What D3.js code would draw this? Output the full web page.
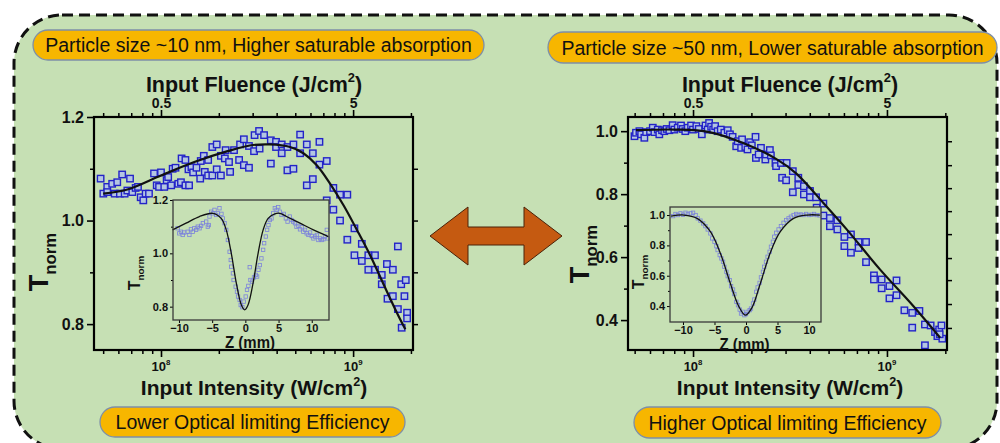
<!DOCTYPE html>
<html>
<head>
<meta charset="utf-8">
<script src="https://cdn.jsdelivr.net/npm/d3@7"></script>
<style>
  body { margin: 0; background: #fff; }
  svg { display: block; font-family: "Liberation Sans", Arial, sans-serif; }
</style>
</head>
<body>
<svg id="chart" width="1000" height="443"></svg>
<script>
// ---- data ----
// main plots: [input intensity (W/cm^2), T_norm]
const leftMainPts = [[4.85e7,1.081],[5.01e7,1.052],[5.25e7,1.065],[5.25e7,1.055],[5.57e7,1.071],[5.74e7,1.052],[5.92e7,1.074],[6.11e7,1.052],[6.28e7,1.089],[6.47e7,1.052],[6.68e7,1.058],[6.9e7,1.081],[7.09e7,1.055],[7.38e7,1.063],[7.59e7,1.065],[7.84e7,1.045],[8.09e7,1.039],[8.32e7,1.052],[8.66e7,1.052],[9.2e7,1.091],[9.5e7,1.068],[9.77e7,1.065],[1.0e8,1.093],[1.04e8,1.065],[1.07e8,1.078],[1.09e8,1.084],[1.13e8,1.068],[1.15e8,1.1],[1.19e8,1.102],[1.23e8,1.071],[1.27e8,1.074],[1.34e8,1.068],[1.28e8,1.12],[1.34e8,1.117],[1.4e8,1.068],[1.39e8,1.099],[1.44e8,1.103],[1.47e8,1.093],[1.53e8,1.102],[1.6e8,1.081],[1.61e8,1.115],[1.67e8,1.125],[1.69e8,1.094],[1.76e8,1.117],[1.76e8,1.087],[1.85e8,1.087],[1.85e8,1.142],[1.95e8,1.099],[1.95e8,1.147],[2.05e8,1.087],[2.05e8,1.125],[2.15e8,1.12],[2.17e8,1.136],[2.26e8,1.113],[2.29e8,1.094],[2.4e8,1.136],[2.55e8,1.117],[2.58e8,1.147],[2.7e8,1.157],[2.7e8,1.107],[2.87e8,1.102],[2.87e8,1.144],[3.05e8,1.134],[3.07e8,1.165],[3.24e8,1.173],[3.26e8,1.139],[3.44e8,1.165],[3.73e8,1.155],[3.73e8,1.11],[3.97e8,1.152],[3.97e8,1.142],[4.25e8,1.147],[4.25e8,1.13],[4.55e8,1.142],[4.55e8,1.097],[4.89e8,1.147],[4.89e8,1.1],[5.3e8,1.166],[5.3e8,1.13],[5.74e8,1.147],[5.74e8,1.068],[6.17e8,1.13],[6.17e8,1.08],[6.68e8,1.152],[6.68e8,1.108],[7.29e8,1.115],[7.29e8,1.039],[7.89e8,1.063],[7.89e8,1.021],[8.55e8,1.05],[8.55e8,1.0],[9.33e8,1.05],[9.33e8,0.963],[1.016e9,0.985],[1.016e9,0.933],[1.11e9,0.955],[1.11e9,0.922],[1.2e9,0.933],[1.2e9,0.905],[1.3e9,0.933],[1.3e9,0.905],[1.41e9,0.895],[1.41e9,0.877],[1.5e9,0.916],[1.51e9,0.849],[1.61e9,0.854],[1.61e9,0.905],[1.71e9,0.95],[1.71e9,0.829],[1.78e9,0.877],[1.85e9,0.854],[1.88e9,0.885],[1.79e9,0.793],[1.91e9,0.822],[1.91e9,0.811]];
const leftMainFit = [[5.0e7,1.052],[6.68e7,1.06],[1.0e8,1.087],[1.49e8,1.113],[2.22e8,1.134],[2.9e8,1.145],[3.69e8,1.147],[4.7e8,1.142],[5.51e8,1.13],[6.47e8,1.107],[7.6e8,1.071],[8.93e8,1.029],[1.05e9,0.981],[1.23e9,0.932],[1.44e9,0.877],[1.69e9,0.822],[1.87e9,0.79]];

const rightMainPts = [[4.99e7,0.984],[5.08e7,0.995],[5.29e7,1.0],[5.4e7,0.99],[5.61e7,0.979],[5.73e7,0.997],[6.0e7,1.0],[6.2e7,1.011],[6.32e7,0.997],[6.58e7,1.005],[6.7e7,0.99],[6.92e7,1.003],[7.11e7,1.0],[7.31e7,1.007],[7.55e7,1.003],[7.85e7,1.019],[8.01e7,1.005],[8.34e7,1.011],[8.67e7,1.018],[8.85e7,1.007],[9.12e7,1.0],[9.39e7,1.011],[9.77e7,1.018],[9.99e7,1.005],[1.04e8,1.016],[1.07e8,1.007],[1.11e8,0.99],[1.16e8,1.018],[1.19e8,1.005],[1.21e8,1.026],[1.24e8,1.014],[1.27e8,1.005],[1.3e8,1.016],[1.34e8,1.0],[1.39e8,1.005],[1.45e8,0.995],[1.51e8,1.003],[1.55e8,0.99],[1.6e8,0.982],[1.67e8,0.952],[1.7e8,0.968],[1.77e8,0.947],[1.79e8,0.974],[1.86e8,0.95],[1.91e8,0.942],[1.97e8,0.965],[2.01e8,0.955],[2.1e8,0.982],[2.11e8,0.915],[2.18e8,0.926],[2.24e8,0.947],[2.36e8,0.91],[2.38e8,0.926],[2.49e8,0.94],[2.52e8,0.923],[2.66e8,0.899],[2.68e8,0.889],[2.84e8,0.899],[3.04e8,0.899],[2.88e8,0.852],[3.02e8,0.844],[3.27e8,0.806],[3.27e8,0.873],[3.49e8,0.852],[3.49e8,0.829],[3.73e8,0.825],[3.73e8,0.799],[4.01e8,0.81],[4.01e8,0.79],[4.31e8,0.79],[4.34e8,0.757],[4.7e8,0.77],[4.7e8,0.732],[5.08e8,0.724],[5.08e8,0.698],[5.55e8,0.717],[5.55e8,0.688],[6.03e8,0.664],[6.03e8,0.635],[6.52e8,0.672],[6.52e8,0.614],[7.14e8,0.648],[7.14e8,0.629],[7.8e8,0.648],[7.8e8,0.584],[8.57e8,0.542],[8.57e8,0.529],[9.39e8,0.529],[9.39e8,0.501],[1.03e9,0.508],[1.03e9,0.469],[1.12e9,0.526],[1.12e9,0.479],[1.23e9,0.431],[1.35e9,0.423],[1.35e9,0.376],[1.47e9,0.429],[1.57e9,0.386],[1.57e9,0.32],[1.68e9,0.383],[1.77e9,0.362],[1.82e9,0.349],[1.86e9,0.37],[1.91e9,0.383],[1.93e9,0.341],[1.87e9,0.355]];
const rightMainFit = [[5.08e7,1.003],[8.17e7,1.005],[1.21e8,0.997],[1.8e8,0.963],[2.68e8,0.912],[3.4e8,0.866],[4.7e8,0.772],[6.2e8,0.688],[9.2e8,0.561],[1.37e9,0.444],[1.88e9,0.344]];

// insets: [Z (mm), T_norm]
const leftInsetPts = [[-10.2,1.094],[-9.95,1.075],[-9.7,1.081],[-9.44,1.069],[-9.2,1.078],[-8.7,1.081],[-8.43,1.069],[-8.2,1.09],[-7.93,1.081],[-7.68,1.094],[-7.42,1.088],[-7.17,1.1],[-6.9,1.094],[-6.67,1.103],[-6.4,1.113],[-5.9,1.119],[-5.66,1.1],[-5.5,1.106],[-5.4,1.138],[-5.15,1.156],[-4.9,1.15],[-4.65,1.163],[-4.4,1.144],[-4.14,1.15],[-3.9,1.169],[-3.6,1.148],[-3.4,1.131],[-3.13,1.113],[-2.88,1.088],[-2.63,1.05],[-2.37,1.006],[-2.2,0.975],[-2.12,0.95],[-1.87,0.925],[-1.77,0.9],[-1.46,0.875],[-1.26,0.856],[-1.1,0.838],[-0.86,0.825],[-0.7,0.806],[-0.45,0.798],[-0.25,0.819],[0.05,0.838],[0.25,0.863],[0.45,0.878],[0.66,0.948],[0.76,0.9],[1.0,0.894],[1.3,0.91],[1.57,0.919],[1.77,0.913],[1.97,0.938],[2.17,0.956],[2.42,0.981],[2.68,1.013],[2.83,1.038],[3.08,1.063],[3.28,1.088],[3.48,1.106],[3.69,1.125],[3.94,1.131],[4.19,1.15],[4.44,1.169],[4.7,1.163],[4.95,1.173],[5.2,1.156],[5.45,1.144],[5.8,1.148],[6.1,1.131],[6.36,1.119],[6.7,1.138],[6.97,1.125],[7.2,1.119],[7.47,1.113],[7.7,1.1],[7.98,1.103],[8.23,1.09],[8.48,1.098],[8.74,1.081],[8.99,1.088],[9.24,1.075],[9.5,1.069],[9.75,1.078],[10.0,1.065],[10.25,1.056],[10.5,1.063],[10.76,1.069],[11.0,1.05],[11.26,1.056],[11.5,1.05],[11.77,1.053],[12.0,1.063],[12.27,1.088],[12.4,1.056]];
const leftInsetFit = [[-10.96,1.088],[-8.94,1.113],[-6.92,1.138],[-4.9,1.15],[-3.64,1.131],[-2.88,1.088],[-2.12,1.0],[-1.36,0.888],[-0.6,0.806],[-0.1,0.788],[0.4,0.806],[1.16,0.888],[1.92,1.0],[2.68,1.088],[3.43,1.131],[4.44,1.148],[5.2,1.15],[6.2,1.138],[8.23,1.113],[10.25,1.088],[12.5,1.063]];

const rightInsetPts = [[-11.56,0.993],[-11.19,1.007],[-10.82,1.0],[-10.4,1.011],[-10.0,1.002],[-9.6,1.015],[-9.23,1.007],[-8.8,1.011],[-8.4,1.015],[-8.0,1.0],[-7.65,0.978],[-7.23,0.963],[-6.8,0.945],[-6.44,0.927],[-6.07,0.905],[-5.65,0.879],[-5.38,0.846],[-5.0,0.824],[-4.7,0.795],[-4.5,0.769],[-4.17,0.736],[-3.9,0.714],[-3.64,0.692],[-3.43,0.659],[-3.11,0.626],[-2.9,0.597],[-2.59,0.571],[-2.37,0.531],[-2.06,0.509],[-1.85,0.479],[-1.53,0.428],[-1.27,0.406],[-1.0,0.377],[-0.79,0.351],[-0.53,0.362],[-0.26,0.34],[0.0,0.347],[0.26,0.362],[0.58,0.373],[0.79,0.384],[1.11,0.417],[1.32,0.443],[1.64,0.494],[1.85,0.523],[2.16,0.553],[2.37,0.589],[2.69,0.626],[2.9,0.659],[3.17,0.692],[3.43,0.725],[3.75,0.758],[3.96,0.791],[4.27,0.824],[4.49,0.857],[4.8,0.883],[5.17,0.905],[5.54,0.927],[5.96,0.949],[6.39,0.967],[6.75,0.978],[7.12,0.989],[7.55,1.0],[7.97,1.007],[8.34,1.0],[8.71,1.004],[9.13,1.0],[9.55,1.007],[9.97,1.0],[10.4,1.002],[10.8,1.007],[11.2,1.0],[11.66,0.998]];
const rightInsetFit = [[-11.87,0.993],[-9.87,1.0],[-7.76,0.978],[-5.65,0.89],[-4.06,0.747],[-2.48,0.549],[-1.16,0.399],[-0.1,0.34],[0.95,0.39],[2.27,0.549],[3.85,0.751],[5.44,0.89],[7.55,0.978],[9.66,1.0],[11.77,1.0]];

// tick values and labels
const intensityMajor = [1e8, 1e9];
const intensityMinor = [5e7, 6e7, 7e7, 8e7, 9e7, 2e8, 3e8, 4e8, 5e8, 6e8, 7e8, 8e8, 9e8, 2e9];
const intensityExp = ['8', '9'];
const fluenceMajor = [0.5, 5];
const fluenceMinor = [0.25, 0.3, 0.35, 0.4, 0.45, 1, 1.5, 2, 2.5, 3, 3.5, 4, 4.5, 10];
const fluencePerIntensity = 5e-9;   // 0.5 J/cm^2 sits at 1e8 W/cm^2
const zTicks = [-10, -5, 0, 5, 10];
const rightMirrorTicks = [0.968, 0.892, 0.819, 0.746, 0.673, 0.597, 0.527, 0.451, 0.375];

const titles = {
  topLeft: 'Particle size ~10 nm, Higher saturable absorption',
  topRight: 'Particle size ~50 nm, Lower saturable absorption',
  bottomLeft: 'Lower Optical limiting Efficiency',
  bottomRight: 'Higher Optical limiting Efficiency'
};

// ---- drawing ----
const GREEN = '#c6e0b4';
const svg = d3.select('#chart');

svg.append('rect').attr('width', 1000).attr('height', 443).attr('fill', '#fff');
svg.append('rect')
  .attr('x', 14).attr('y', 15).attr('width', 983).attr('height', 434).attr('rx', 48)
  .attr('fill', GREEN).attr('stroke', '#111').attr('stroke-width', 3).attr('stroke-dasharray', '11 6');

function pill(x, y, w, h, text) {
  svg.append('rect').attr('x', x).attr('y', y).attr('width', w).attr('height', h).attr('rx', h / 2)
    .attr('fill', '#f7b600').attr('stroke', '#7d8fa8').attr('stroke-width', 1.3);
  svg.append('text').attr('x', x + w / 2).attr('y', y + h / 2).attr('dy', '0.36em')
    .attr('text-anchor', 'middle').attr('font-size', 19.5).attr('fill', '#111').text(text);
}

function supText(g, x, y, base, sup, tail, size) {
  const t = g.append('text').attr('x', x).attr('y', y).attr('text-anchor', 'middle')
    .attr('font-size', size).attr('font-weight', 'bold').attr('fill', '#111');
  t.append('tspan').text(base);
  t.append('tspan').attr('dy', -size * 0.45).attr('font-size', size * 0.6).text(sup);
  if (tail) t.append('tspan').attr('dy', size * 0.45).text(tail);
  return t;
}

function tnorm(g, x, y, size) {
  const t = g.append('text').attr('transform', `translate(${x},${y}) rotate(-90)`)
    .attr('text-anchor', 'middle').attr('font-weight', 'bold').attr('font-size', size).attr('fill', '#111');
  t.append('tspan').text('T');
  t.append('tspan').attr('dy', size * 0.28).attr('font-size', size * 0.62).text('norm');
}

function styleAxis(sel, width, font) {
  sel.select('.domain').remove();
  sel.selectAll('line').attr('stroke', '#000').attr('stroke-width', width);
  sel.attr('font-family', null).attr('font-size', font).attr('font-weight', 'bold');
  sel.selectAll('text').attr('fill', '#111');
}

function drawPanel(p) {
  const g = svg.append('g');
  const x = d3.scaleLog().domain(p.xDomain).range([p.x0, p.x1]);
  const f = d3.scaleLog().domain(p.xDomain.map(v => v * fluencePerIntensity)).range([p.x0, p.x1]);
  const y = d3.scaleLinear().domain(p.yDomain).range([p.y1, p.y0]);

  // bottom: intensity
  g.append('g').attr('transform', `translate(0,${p.y1})`)
    .call(d3.axisBottom(x).tickValues(intensityMinor).tickSize(4).tickFormat(''))
    .call(s => styleAxis(s, 1.5, 12));
  g.append('g').attr('transform', `translate(0,${p.y1})`)
    .call(d3.axisBottom(x).tickValues(intensityMajor).tickSize(7).tickFormat(''))
    .call(s => styleAxis(s, 1.6, 12));
  intensityMajor.forEach((v, i) => supText(g, x(v), p.y1 + 21, '10', intensityExp[i], '', 13));
  supText(g, p.cx, 395, 'Input Intensity (W/cm', '2', ')', 21);

  // top: fluence
  g.append('g').attr('transform', `translate(0,${p.y0})`)
    .call(d3.axisTop(f).tickValues(fluenceMinor).tickSize(4).tickFormat(''))
    .call(s => styleAxis(s, 1.5, 12));
  g.append('g').attr('transform', `translate(0,${p.y0})`)
    .call(d3.axisTop(f).tickValues(fluenceMajor).tickSize(7).tickPadding(2).tickFormat(d => d))
    .call(s => styleAxis(s, 1.6, 14));
  supText(g, p.cx, 92, 'Input Fluence (J/cm', '2', ')', 21.5);

  // left / right: T_norm
  g.append('g').attr('transform', `translate(${p.x0},0)`)
    .call(d3.axisLeft(y).tickValues(p.yMinor).tickSize(4).tickFormat(''))
    .call(s => styleAxis(s, 1.5, 12));
  g.append('g').attr('transform', `translate(${p.x0},0)`)
    .call(d3.axisLeft(y).tickValues(p.yMajor).tickSize(7).tickPadding(3).tickFormat(d3.format('.1f')))
    .call(s => styleAxis(s, 1.6, 16));
  g.append('g').attr('transform', `translate(${p.x1},0)`)
    .call(d3.axisRight(y).tickValues(p.yRight).tickSize(5).tickFormat(''))
    .call(s => styleAxis(s, 1.5, 12));
  tnorm(g, p.tx, p.ty, 27);

  // scatter + fit
  g.append('g').selectAll('rect').data(p.pts).join('rect')
    .attr('x', d => x(d[0]) - 3.2).attr('y', d => y(d[1]) - 3.2)
    .attr('width', 6.4).attr('height', 6.4)
    .attr('fill', '#b4c6e2').attr('stroke', '#2323c8').attr('stroke-width', 1.4);
  g.append('path').datum(p.fit)
    .attr('d', d3.line().x(d => x(d[0])).y(d => y(d[1])).curve(d3.curveCatmullRom))
    .attr('fill', 'none').attr('stroke', '#111').attr('stroke-width', 2.2);

  g.append('rect').attr('x', p.x0).attr('y', p.y0).attr('width', p.x1 - p.x0).attr('height', p.y1 - p.y0)
    .attr('fill', 'none').attr('stroke', '#000').attr('stroke-width', 2.2);

  // inset
  const q = p.inset;
  const ig = g.append('g');
  const ix = d3.scaleLinear().domain(q.xDomain).range([q.x0, q.x1]);
  const iy = d3.scaleLinear().domain(q.yDomain).range([q.y1, q.y0]);
  ig.append('rect').attr('x', q.x0).attr('y', q.y0).attr('width', q.x1 - q.x0).attr('height', q.y1 - q.y0)
    .attr('fill', GREEN);
  ig.append('g').attr('transform', `translate(0,${q.y1})`)
    .call(d3.axisBottom(ix).tickValues(zTicks).tickSize(3).tickPadding(1).tickFormat(d3.format('d')))
    .call(s => styleAxis(s, 1, 11));
  ig.append('g').attr('transform', `translate(${q.x0},0)`)
    .call(d3.axisLeft(iy).tickValues(q.yMinor).tickSize(2).tickFormat(''))
    .call(s => styleAxis(s, 1, 11));
  ig.append('g').attr('transform', `translate(${q.x0},0)`)
    .call(d3.axisLeft(iy).tickValues(q.yMajor).tickSize(3).tickPadding(2).tickFormat(d3.format('.1f')))
    .call(s => styleAxis(s, 1, 11));
  ig.append('text').attr('x', (q.x0 + q.x1) / 2 - 1).attr('y', q.y1 + 28).attr('text-anchor', 'middle')
    .attr('font-size', 17).attr('font-weight', 'bold').attr('fill', '#111')
    .attr('textLength', 50).attr('lengthAdjust', 'spacingAndGlyphs').text('Z (mm)');
  tnorm(ig, q.tx, q.ty, 16);
  ig.append('g').selectAll('rect').data(q.pts).join('rect')
    .attr('x', d => ix(d[0]) - 1.7).attr('y', d => iy(d[1]) - 1.7)
    .attr('width', 3.4).attr('height', 3.4)
    .attr('fill', 'none').attr('stroke', '#7b82dc').attr('stroke-width', 0.8);
  ig.append('path').datum(q.fit)
    .attr('d', d3.line().x(d => ix(d[0])).y(d => iy(d[1])).curve(d3.curveCatmullRom))
    .attr('fill', 'none').attr('stroke', '#111').attr('stroke-width', 1.3);
  ig.append('rect').attr('x', q.x0).attr('y', q.y0).attr('width', q.x1 - q.x0).attr('height', q.y1 - q.y0)
    .attr('fill', 'none').attr('stroke', '#3a3a3a').attr('stroke-width', 1.3);
}

pill(33, 30, 451, 30, titles.topLeft);
pill(548, 32, 449, 31, titles.topRight);
pill(100, 407, 305, 30, titles.bottomLeft);
pill(634, 407, 307, 31, titles.bottomRight);

drawPanel({
  x0: 94, x1: 413, y0: 117, y1: 350, cx: 254,
  xDomain: [4.48e7, 2.05e9], yDomain: [0.75, 1.2],
  yMajor: [0.8, 1.0, 1.2], yMinor: [0.9, 1.1], yRight: [0.8, 0.9, 1.0, 1.1],
  tx: 48, ty: 262,
  pts: leftMainPts, fit: leftMainFit,
  inset: {
    x0: 173, x1: 329, y0: 200, y1: 320, xDomain: [-10.9, 12.6], yDomain: [0.75, 1.2],
    yMajor: [0.8, 1.0, 1.2], yMinor: [0.9, 1.1], tx: 140, ty: 273,
    pts: leftInsetPts, fit: leftInsetFit
  }
});

drawPanel({
  x0: 628, x1: 947, y0: 117, y1: 350, cx: 790,
  xDomain: [4.62e7, 2.04e9], yDomain: [0.305, 1.045],
  yMajor: [0.4, 0.6, 0.8, 1.0], yMinor: [0.5, 0.7, 0.9], yRight: rightMirrorTicks,
  tx: 589, ty: 254,
  pts: rightMainPts, fit: rightMainFit,
  inset: {
    x0: 670, x1: 821, y0: 207, y1: 322, xDomain: [-12.06, 11.9], yDomain: [0.295, 1.053],
    yMajor: [0.4, 0.6, 0.8, 1.0], yMinor: [0.5, 0.7, 0.9], tx: 644, ty: 272,
    pts: rightInsetPts, fit: rightInsetFit
  }
});

// double-headed arrow between the panels
svg.append('path')
  .attr('d', 'M430,236 L468,207 L468,227 L524,227 L524,207 L562,236 L524,265 L524,245 L468,245 L468,265 Z')
  .attr('fill', '#c55a11').attr('stroke', '#4a2208').attr('stroke-width', 1);
</script>
</body>
</html>
